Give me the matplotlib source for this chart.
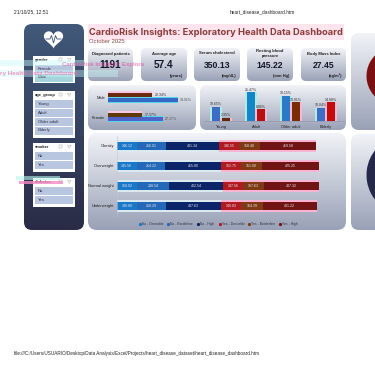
import numpy as np
import matplotlib
matplotlib.use("Agg")
import matplotlib.pyplot as plt
from matplotlib.patches import FancyBboxPatch, Rectangle, Polygon

W, H = 375, 366

header_left = "21/10/25, 12:51"
header_mid = "heart_disease_dashboard.htm"
footer = "file:///C:/Users/USUARIO/Desktop/Data Analysis/Excel/Projects/heart_disease_dataset/heart_disease_dashboard.htm"
title = "CardioRisk Insights: Exploratory Health Data Dashboard"
subtitle = "October 2025"

kpi_labels = ["Diagnosed patients", "Average age", "Serum cholesterol", "Resting blood\npressure", "Body Mass Index"]
kpi_values = ["1191", "57.4", "350.13", "145.22", "27.45"]
kpi_units = ["", "(years)", "(mg/dL)", "(mm Hg)", "(kg/m²)"]

filter_names = ["gender", "age_group", "smoker", "diabetes"]
filter_items = [["Female", "Male"], ["Young", "Adult", "Older adult", "Elderly"], ["No", "Yes"], ["No", "Yes"]]

gender_cats = ["Male", "Female"]
gender_yes = [22.34, 17.37]
gender_no = [34.91, 27.37]

age_cats = ["Young", "Adult", "Older adult", "Elderly"]
age_no = [10.65, 21.47, 19.15, 10.04]
age_yes = [2.35, 8.86, 13.91, 14.08]

bmi_cats = ["Obesity", "Overweight", "Normal weight", "Underweight"]
stack_names = ["No - Desirable", "No - Borderline", "No - High", "Yes - Desirable", "Yes - Borderline", "Yes - High"]
stack_vals = [
    [146.12, 145.56, 150.92, 149.80],
    [216.01, 214.22, 238.54, 218.29],
    [401.34, 415.80, 402.54, 407.63],
    [146.55, 152.75, 147.56, 149.83],
    [158.48, 151.00, 157.63, 164.39],
    [419.58, 425.25, 407.32, 401.22],
]
stack_cols = ["#1a78c8", "#2468b8", "#0c2468", "#b01a20", "#7e3a12", "#701414"]

pie_red = [72, 28]
pie_navy = [78, 22]

plt.rcParams["font.family"] = ["Liberation Sans", "DejaVu Sans"]
fig = plt.figure(figsize=(W / 100, H / 100), dpi=100, facecolor="white")
bg = fig.add_axes([0, 0, 1, 1])
bg.set_xlim(0, W); bg.set_ylim(H, 0); bg.axis("off")


def rect_ax(x0, y0, x1, y1):
    a = fig.add_axes([x0 / W, 1 - y1 / H, (x1 - x0) / W, (y1 - y0) / H])
    a.patch.set_alpha(0)
    for s in a.spines.values():
        s.set_visible(False)
    a.tick_params(length=0, labelsize=2.9, pad=1, colors="#222222")
    return a


def gradient(x0, y0, x1, y1, top, bottom, r=6, ax=bg, z=1):
    c0 = np.array(matplotlib.colors.to_rgb(top)); c1 = np.array(matplotlib.colors.to_rgb(bottom))
    t = np.linspace(0, 1, 128)[:, None, None]
    img = c0[None, None, :] * (1 - t) + c1[None, None, :] * t
    im = ax.imshow(img, extent=(x0, x1, y1, y0), aspect="auto", zorder=z, interpolation="bilinear")
    p = FancyBboxPatch((x0 + r, y0 + r), x1 - x0 - 2 * r, y1 - y0 - 2 * r,
                       boxstyle=f"round,pad={r},rounding_size={r}", transform=ax.transData,
                       fc="none", ec="none", zorder=z)
    ax.add_patch(p)
    im.set_clip_path(p)


TOP, BOT = "#f1f3f7", "#99a1b6"

# title highlight
bg.add_patch(Rectangle((88, 24), 256, 16, fc="#fde4ed", ec="none", zorder=0.5))
bg.text(89, 32.5, title, fontsize=6.7, fontweight="bold", color="#8a3c3c", va="center", family="Inter", zorder=3)
bg.text(89, 41.5, subtitle, fontsize=4.2, color="#8a4a4a", va="center", zorder=3)
bg.text(14, 11.5, header_left, fontsize=3.5, color="#222222", va="center")
bg.text(262, 11.5, header_mid, fontsize=3.4, color="#222222", va="center", ha="center")
bg.text(14, 354, footer, fontsize=3.37, color="#222222", va="center")

# sidebar
gradient(24, 24, 84, 230, "#41597a", "#2a2c47", r=8)
t = np.linspace(0, 2 * np.pi, 120)
hx = 16 * np.sin(t) ** 3
hy = 13 * np.cos(t) - 5 * np.cos(2 * t) - 2 * np.cos(3 * t) - np.cos(4 * t)
bg.add_patch(Polygon(np.c_[53.5 + hx * 0.6, 38.5 - hy * 0.6], fc="white", ec="none", zorder=3))
bg.plot([46, 50, 51.5, 53.5, 55.5, 57, 61], [39, 39, 35.5, 43, 35.5, 39, 39], color="#3b5170", lw=0.6, zorder=4)

cards = [(56, 83), (91, 138), (143, 172), (178, 207)]
item_rows = [[68.5, 77.5], [104, 113, 122, 130.5], [156, 165], [191, 200]]
for name, items, (c0, c1), rows in zip(filter_names, filter_items, cards, item_rows):
    bg.add_patch(Rectangle((33, c0), 42, c1 - c0, fc="white", ec="none", zorder=3))
    bg.text(35, c0 + 4, name, fontsize=3.0, fontweight="bold", color="#222222", va="center", zorder=4)
    bg.add_patch(Rectangle((58.5, c0 + 2.2), 3, 3, fc="none", ec="#999999", lw=0.3, zorder=4))
    bg.add_patch(Polygon([[67.5, c0 + 2.2], [71, c0 + 2.2], [69.3, c0 + 5.4]], fc="none", ec="#aaaaaa", lw=0.3, zorder=4))
    for it, yy in zip(items, rows):
        col = "#a6d4dc" if it == "Male" else "#b9c6e0"
        bg.add_patch(Rectangle((35, yy - 4), 38, 8, fc=col, ec="none", zorder=4))
        bg.text(38, yy, it, fontsize=3.1, color="#333344", va="center", zorder=5)

# KPI cards
kpi_x = [(88, 133), (141, 187), (194, 240), (247, 293), (301, 346)]
kpi_sizes = [7.2, 7.2, 6.2, 6.2, 6.2]
for (x0, x1), lab, val, un, fs in zip(kpi_x, kpi_labels, kpi_values, kpi_units, kpi_sizes):
    gradient(x0, 48, x1, 81, TOP, "#9aa2b7", r=5, z=1)
    cx = (x0 + x1) / 2
    bg.text(cx, 53.5, lab, fontsize=3.0, fontweight="bold", color="#222222", ha="center", va="center", zorder=3, linespacing=1.25)
    bg.text(cx, 65, val, fontsize=fs, fontweight="bold", color="#15152a", ha="center", va="center", zorder=3)
    if un:
        bg.text(x1 - 4, 75.5, un, fontsize=2.9, fontweight="bold", color="#222222", ha="right", va="center", zorder=3)

# panels
gradient(88, 85, 196, 130, TOP, BOT, r=7)
gradient(200, 85, 346, 130, TOP, BOT, r=7)
gradient(88, 133, 346, 230, TOP, BOT, r=9)
gradient(351, 33, 395, 130, TOP, BOT, r=8)
gradient(351, 134, 395, 230, TOP, BOT, r=8)

# gender chart
ag = rect_ax(107.5, 88, 190, 128)
pos = np.arange(len(gender_cats))
ag.barh(pos - 0.14, gender_yes, height=0.34, color="#f9c6e2", zorder=1)
ag.barh(pos + 0.12, gender_no, height=0.3, color="#52d8ea", zorder=1)
ag.barh(pos - 0.115, gender_yes, height=0.22, color=["#6b2a10", "#5d3a08"], zorder=2)
ag.barh(pos + 0.115, gender_no, height=0.22, color=["#3668c4", "#4f62c8"], zorder=2)
ag.set_yticks(pos, gender_cats)
ag.set_xticks([])
ag.set_xlim(0, 41)
ag.set_ylim(1.564, -0.487)
ag.tick_params(axis="y", pad=1.5)
for i in pos:
    ag.text(gender_yes[i] + 1, i - 0.115, f"{gender_yes[i]:.2f}%", fontsize=2.5, va="center", color="#333333")
    ag.text(gender_no[i] + 1, i + 0.115, f"{gender_no[i]:.2f}%", fontsize=2.5, va="center", color="#555555")

# age chart
aa = rect_ax(203.5, 90, 343.5, 121)
pos = np.arange(len(age_cats))
b = 0.257
no_cols = ["#3d6cc4", "#1585c9", "#2b7ac9", "#3d6cc4"]
yes_cols = ["#5e2a08", "#b81010", "#7a2c05", "#c60a0a"]
aa.bar(pos - 0.145, age_no, width=0.36, color="#aeece6", zorder=1)
aa.bar(pos + 0.145, age_yes, width=0.36, color="#f6b8d8", zorder=1)
aa.bar(pos - 0.145, age_no, width=b - 0.03, color=no_cols, zorder=2)
aa.bar(pos + 0.145, age_yes, width=b - 0.03, color=yes_cols, zorder=2)
aa.set_xlim(-0.5, 3.5)
aa.set_ylim(0, 23.3)
aa.set_yticks([])
aa.set_xticks(pos, age_cats)
aa.tick_params(axis="x", pad=3)
aa.spines["bottom"].set_visible(True)
aa.spines["bottom"].set_color("#8d93a3")
aa.spines["bottom"].set_linewidth(0.4)
for i in pos:
    aa.text(i - 0.145, age_no[i] + 0.4, f"{age_no[i]:.2f}%", fontsize=2.5, ha="center", va="bottom", color="#333333")
    aa.text(i + 0.145, age_yes[i] + 0.4, f"{age_yes[i]:.2f}%", fontsize=2.5, ha="center", va="bottom", color="#333333")

# stacked chart
sa = rect_ax(117, 136, 320, 216)
pos = np.arange(len(bmi_cats))
left = np.zeros(len(bmi_cats))
for j, (vals, col) in enumerate(zip(stack_vals, stack_cols)):
    vals = np.array(vals)
    sa.barh(pos, vals, left=left, height=0.62, color="#f9b4d4" if j >= 3 else "#dbeaf0", zorder=1)
    sa.barh(pos, vals, left=left, height=0.4, color=col, zorder=2)
    for i in pos:
        sa.text(left[i] + vals[i] / 2, i, f"{vals[i]:.2f}", fontsize=2.6, color="#e8e8f4", ha="center", va="center", zorder=3)
    left = left + vals
sa.set_xlim(0, 1515)
sa.set_ylim(3.5, -0.5)
sa.set_xticks([])
sa.set_yticks(pos, bmi_cats)
sa.tick_params(axis="y", pad=2)
sa.spines["left"].set_visible(True)
sa.spines["left"].set_color("#c4c8d2")
sa.spines["left"].set_linewidth(0.4)

# stacked legend
legend_x = [140, 168, 198, 220, 249, 280]
for lx, name, col in zip(legend_x, stack_names, stack_cols):
    bg.plot([lx], [224], "o", ms=1.3, color=col, zorder=3)
    bg.text(lx + 2, 224, name, fontsize=2.4, color="#333344", va="center", zorder=3)

# clipped pies
for (vals, cols, cy, r) in [(pie_red, ["#7c0f12", "#9a1c1f"], 76, 29), (pie_navy, ["#26284a", "#34365c"], 175, 40)]:
    cx = 366.5 + r
    pa = fig.add_axes([(cx - r) / W, 1 - (cy + r) / H, 2 * r / W, 2 * r / H])
    pa.pie(vals, colors=cols, radius=1, startangle=120)
    pa.set_xlim(-1, 1); pa.set_ylim(-1, 1)

# chromatic print artefacts
ov = fig.add_axes([0, 0, 1, 1]); ov.set_xlim(0, W); ov.set_ylim(H, 0); ov.axis("off"); ov.patch.set_alpha(0)
ov.add_patch(Rectangle((0, 60), 85, 6, fc="#c9fbf8", alpha=0.45, ec="none"))
ov.add_patch(Rectangle((0, 70), 118, 7, fc="#c9fbf8", alpha=0.4, ec="none"))
ov.text(62, 64.5, "CardioRisk Insights: Explora", fontsize=4.3, fontweight="bold", color="#e0359a", alpha=0.55, va="center")
ov.text(0, 73.5, "ry Health Data Dashboard", fontsize=4.6, fontweight="bold", color="#f06ab0", alpha=0.7, va="center")
ov.add_patch(Rectangle((19, 181), 44, 3, fc="#f48ac4", alpha=0.8, ec="none"))
ov.add_patch(Rectangle((16, 176), 44, 4, fc="#b9f7ef", alpha=0.6, ec="none"))

fig.savefig("out.png", dpi=100, facecolor="white")
